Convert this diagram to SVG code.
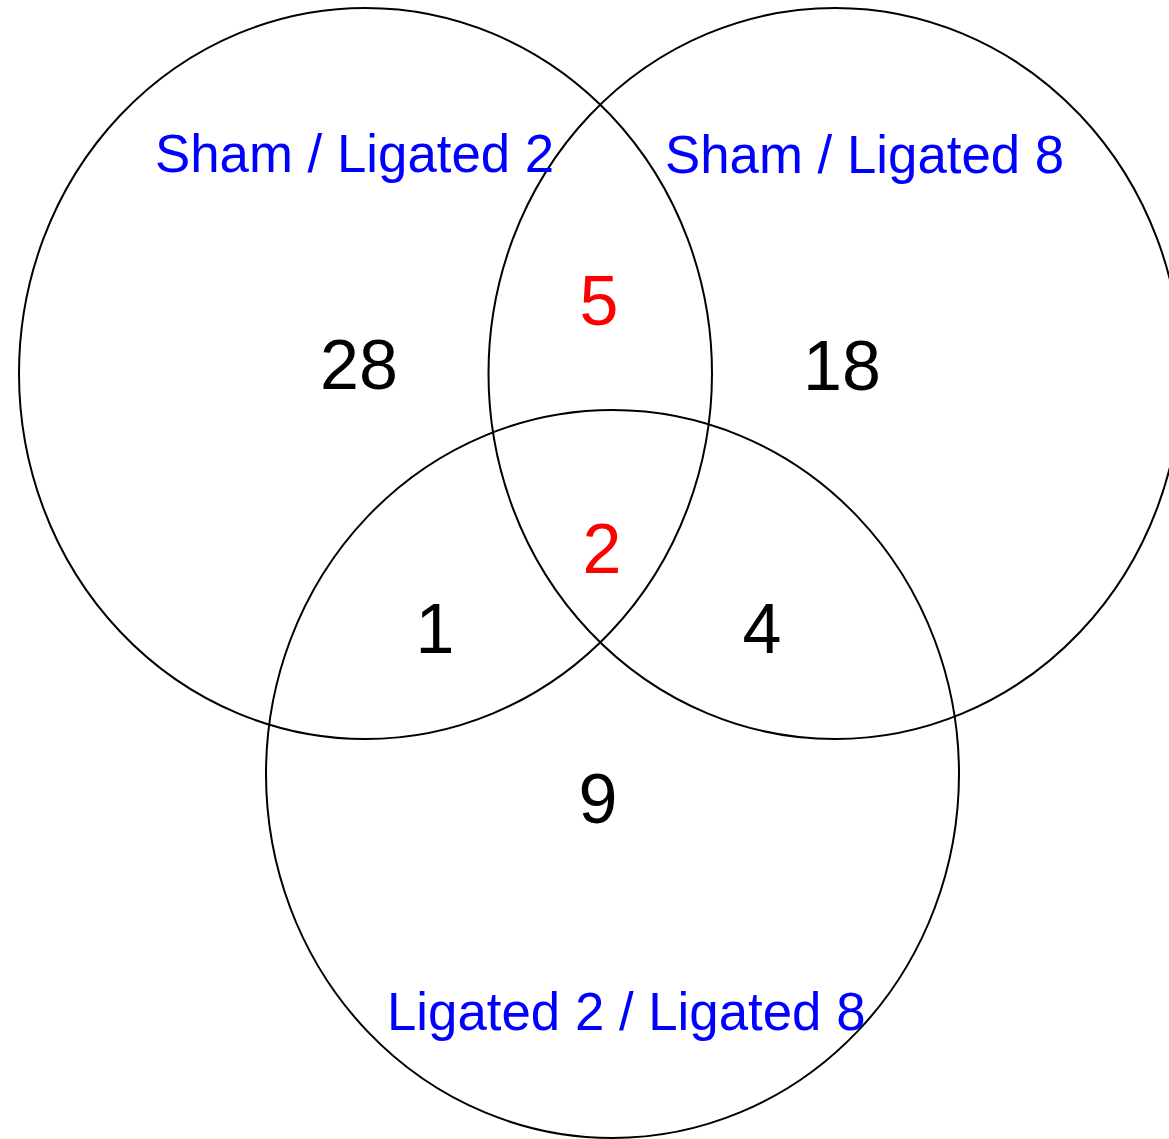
<svg xmlns="http://www.w3.org/2000/svg" width="1169" height="1139" viewBox="0 0 1169 1139">
<style>
.set{fill:none;stroke:#000;stroke-width:2}
.lbl{font-family:"Liberation Sans",Arial,sans-serif;font-size:52.8px;fill:#0000ff}
.num{font-family:"Liberation Sans",Arial,sans-serif;font-size:70px;fill:#000;text-anchor:middle}
.red{fill:#ff0000}
</style>
<rect width="1169" height="1139" fill="#fff"/>
<g id="set-sham-lig2"><ellipse class="set" cx="365.5" cy="373.5" rx="346.5" ry="365.5"/></g>
<g id="set-sham-lig8"><ellipse class="set" cx="835" cy="373.5" rx="346.5" ry="365.5"/></g>
<g id="set-lig2-lig8"><ellipse class="set" cx="612.5" cy="774" rx="346.5" ry="364"/></g>
<g id="labels">
<text class="lbl" x="155" y="172">Sham / Ligated 2</text>
<text class="lbl" x="665" y="173">Sham / Ligated 8</text>
<text class="lbl" x="387" y="1030">Ligated 2 / Ligated 8</text>
</g>
<g id="counts">
<text class="num" x="359" y="389">28</text>
<text class="num" x="842" y="390">18</text>
<text class="num red" x="599" y="325">5</text>
<text class="num red" x="602" y="573">2</text>
<text class="num" x="435" y="653">1</text>
<text class="num" x="762" y="653">4</text>
<text class="num" x="598" y="823">9</text>
</g>
</svg>
